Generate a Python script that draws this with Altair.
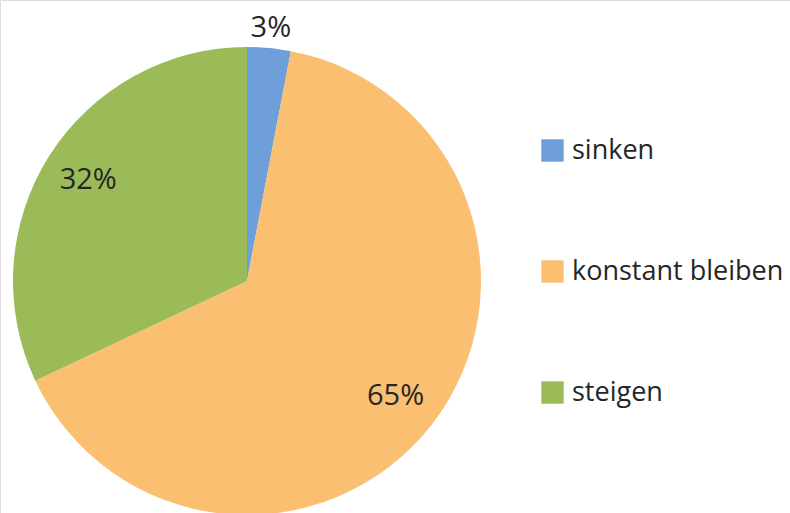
import altair as alt
import pandas as pd

categories = ["sinken", "konstant bleiben", "steigen"]
values = [3, 65, 32]
labels = ["3%", "65%", "32%"]
colors = ["#6F9FD8", "#FBBF72", "#9BBB59"]

df = pd.DataFrame({"cat": categories, "val": values, "lab": labels, "idx": list(range(len(categories)))})

FONT = "Open Sans"
cx, cy, R = 247, 281, 234

arcs = alt.Chart(df).mark_arc(outerRadius=R).encode(
    theta=alt.Theta("val:Q", stack=True),
    order=alt.Order("idx:Q"),
    x=alt.value(cx), y=alt.value(cy),
    color=alt.Color("cat:N", scale=alt.Scale(domain=categories, range=colors),
                    legend=alt.Legend(title=None, orient="none", legendX=539, legendY=137,
                                      symbolType="square", symbolSize=500, symbolStrokeWidth=0,
                                      labelFont=FONT, labelFontSize=27, labelColor="#262626",
                                      labelOffset=6, rowPadding=93, labelLimit=400)),
)

tbase = alt.Chart(df).transform_joinaggregate(
    total="sum(val)"
).transform_stack(
    stack="val", as_=["v0", "v1"], groupby=[], sort=[alt.SortField("idx", order="ascending")]
).transform_calculate(
    mid="(datum.v0 + datum.v1) / 2 / datum.total"
)

def lbl(filt, r):
    return tbase.transform_filter(filt).mark_text(font=FONT, fontSize=29, color="#262626").encode(
        theta=alt.Theta("mid:Q", scale=alt.Scale(domain=[0, 1]), stack=None),
        x=alt.value(cx), y=alt.value(cy), radius=alt.value(r), text="lab:N",
    )

inner = lbl(alt.datum.val >= 10, 188)
outer = lbl(alt.datum.val < 10, 254)

chart = alt.layer(arcs, inner, outer).resolve_scale(theta="independent").properties(
    width=790, height=513, padding=0, autosize=alt.AutoSizeParams(type="none")
).configure_view(stroke=None).configure(background="white")

chart.save("out.html", embed_options={"renderer": "svg", "actions": False})
